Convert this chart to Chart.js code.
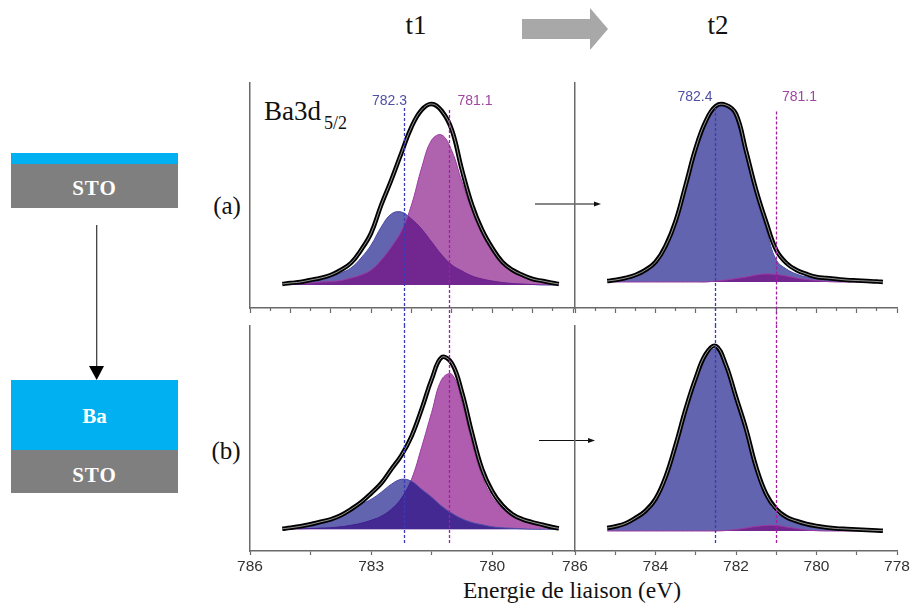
<!DOCTYPE html>
<html><head><meta charset="utf-8">
<script src="https://cdn.jsdelivr.net/npm/chart.js@4.4.1/dist/chart.umd.min.js"></script>
<style>
html,body{margin:0;padding:0;background:#fff;}
body{width:912px;height:607px;position:relative;overflow:hidden;font-family:"Liberation Serif",serif;}
canvas{position:absolute;}
.box{position:absolute;}
.lbl{position:absolute;white-space:nowrap;color:#111;}
.sto{position:absolute;left:11px;width:167px;color:#fff;font:bold 21px "Liberation Serif",serif;letter-spacing:1px;text-align:center;line-height:21px;}
</style></head><body>

<!-- left diagram -->
<div class="box" style="left:11px;top:153px;width:167px;height:11px;background:#00b0f0"></div>
<div class="box" style="left:11px;top:164px;width:167px;height:44px;background:#7f7f7f"></div>
<div class="sto" style="top:178px">STO</div>
<div class="box" style="left:11px;top:380px;width:167px;height:70px;background:#00b0f0"></div>
<div class="sto" style="top:406px;letter-spacing:0">Ba</div>
<div class="box" style="left:11px;top:450px;width:167px;height:43px;background:#7f7f7f"></div>
<div class="sto" style="top:465px">STO</div>

<svg width="912" height="607" style="position:absolute;left:0;top:0">
  <line x1="96.7" y1="225" x2="96.7" y2="368" stroke="#333" stroke-width="1.2"/>
  <polygon points="89,366 104,366 96.7,380" fill="#000"/>
  <polygon points="522,19 590,19 590,8 608,29 590,50 590,39 522,39" fill="#a8a8a8"/>
  <line x1="535" y1="204" x2="596" y2="204" stroke="#111" stroke-width="1"/>
  <polygon points="594,201.5 601,204 594,206.5" fill="#111"/>
  <line x1="539" y1="440.5" x2="590" y2="440.5" stroke="#111" stroke-width="1"/>
  <polygon points="588,438 595,440.5 588,443" fill="#111"/>
</svg>

<div class="lbl" style="left:366px;top:12.4px;width:100px;text-align:center;font-size:27px;line-height:27px">t1</div>
<div class="lbl" style="left:668px;top:12.4px;width:100px;text-align:center;font-size:27px;line-height:27px">t2</div>
<div class="lbl" style="left:197px;top:192.6px;width:60px;text-align:center;font-size:25px;line-height:25px">(a)</div>
<div class="lbl" style="left:196px;top:437.9px;width:60px;text-align:center;font-size:25px;line-height:25px">(b)</div>
<div class="lbl" style="left:264px;top:97.9px;font-size:27px;line-height:27px">Ba3d</div>
<div class="lbl" style="left:324px;top:114.4px;font-size:18px;line-height:18px">5/2</div>
<div class="lbl" style="left:422px;top:579.3px;width:300px;text-align:center;font-size:23.5px;line-height:23.5px">Energie de liaison (eV)</div>

<canvas id="cA1" width="353" height="243" style="left:235px;top:82px"></canvas>
<canvas id="cA2" width="352" height="243" style="left:560px;top:82px"></canvas>
<canvas id="cB1" width="353" height="256" style="left:235px;top:325px"></canvas>
<canvas id="cB2" width="352" height="256" style="left:560px;top:325px"></canvas>

<script>
// ---- binding energy grid (eV) shared by every spectrum ----
const energy = [785.2,785.0,784.75,784.5,784.25,784.0,783.75,783.5,783.25,783.0,782.75,782.5,782.25,782.0,781.75,781.5,781.25,781.0,780.75,780.5,780.25,780.0,779.75,779.5,779.25,779.0,778.75,778.5,778.35];

// ---- (a) t1 ----
const t1aMeasured = [1,2,3,5,7,10,15,22,35,52,80,105,132,158,175,181,174,155,115,80,55,37,23,15,10,6,4,2,1];
const t1aHighBE   = [0.5,1,2,3,5,8,12,17,27,40,58,71,73,66,56,43,30,20,14,9,6,4,2.5,1.5,1,0.5,0,0,0];
const t1aLowBE    = [0.5,1,1.5,2,3,3.5,4.5,7,10,15,25,38,54,80,117,145,150,134,103,74,50,33,20,13,8,5,3,2,1];
// ---- (a) t2 ----
const t2aMeasured = [1,2,4,7,12,20,36,61,97,134,161,176,177,168,131,92,60,32,19,12,8,5,4,3,2,1.5,1,0.5,0];
const t2aHighBE   = [1,2,3.5,6.5,11,19,35,60,96,133,160,174,175,165,127,85,52,22,13,8,5,3.5,2.5,2,1.5,1,0.5,0.5,0];
const t2aLowBE    = [0,0,0,0,0,0,0,0,0,0,0,1,2,3.5,5,7,8,7.5,6,4,2.5,1.5,0.5,0,0,0,0,0,0];
// ---- (b) t1 ----
const t1bMeasured = [0.5,1.5,3,5,7.5,10,14,20,27,36,46,60,74,93,120,150,172,166,137,96,60,38,24,15,10,7,4.5,2,1];
const t1bHighBE   = [0.5,1,1.7,3,5.5,8.5,13,19,25,30,37,45,50,48,40,32,23,16,10.5,6.8,4.5,2.5,1.5,1,0.5,0,0,0,0];
const t1bLowBE    = [0,0.3,0.5,0.8,1.2,1.6,2.5,4,6,9,13,20,31,50,82,117,150,155,127,86,53,32,21,13,8.5,5,3,1.2,0.5];
// ---- (b) t2 ----
const t2bMeasured = [3,4.5,7.5,13,20,32,54,86,122,153,177,185,166,134,102,64,37,22,14,10,7,5,3.5,2.5,2,1.5,1,0.5,0.3];
const t2bHighBE   = [2.5,4,7,12.5,19,31,52,84,120,150,174,182,163,131,99,60,33,18,12,8,5,3.5,2.5,2,1.5,1,0.5,0.3,0];
const t2bLowBE    = [0,0,0,0,0,0,0,0,0,0,0,0,0.5,1.5,3,4.5,5.5,5.5,4,2.5,1,0.3,0,0,0,0,0,0,0];

// ---- component positions (eV) and their labels ----
const peaksT1 = [782.19, 781.08];
const peakLabelsT1 = ['782.3', '781.1'];
const peaksT2 = [782.52, 781.01];
const peakLabelsT2 = ['782.4', '781.1'];

// ---- axis ticks ----
const topMajor = [786,785,784,783,782,781,780,779,778];
const topMinor = [785.5,784.5,783.5,782.5,781.5,780.5,779.5,778.5];
const blMajor = [786,783,780];
const blMinor = [784.5,781.5,778.5];
const brMajor = [786,784,782,780,778];
const brMinor = [785,783,781,779];

// ------------------------------------------------
const BLUE = 'rgb(98,100,176)', BLUE_T = 'rgba(9,12,131,0.64)';
const MAG = 'rgb(176,93,176)', MAG_T = 'rgba(125,0,125,0.61)';
const AX = '#6a6a6a';

function xy(vals){ return energy.map((e,i)=>({x:e, y:vals[i]})); }

const refLines = {
  id:'refLines',
  afterDatasetsDraw(chart, args, opts){
    const {ctx, chartArea} = chart; const xs = chart.scales.x;
    ctx.save();
    (opts.lines||[]).forEach(l=>{
      const px = Math.round(xs.getPixelForValue(l.value)) + 0.5;
      ctx.strokeStyle = l.color; ctx.lineWidth = 1.3; ctx.setLineDash([3,2]);
      ctx.beginPath(); ctx.moveTo(px, chartArea.top + l.top); ctx.lineTo(px, chartArea.bottom + l.bottom); ctx.stroke();
      if (l.label){
        ctx.setLineDash([]); ctx.fillStyle = l.labelColor;
        ctx.font = '14px "Liberation Sans", sans-serif';
        ctx.textAlign = l.align; ctx.textBaseline = 'middle';
        ctx.fillText(l.label, px + l.dx, chartArea.top + l.ly);
      }
    });
    ctx.restore();
  }
};

function makePanel(id, p){
  const mag = {data:xy(p.low), fill:'origin', backgroundColor: p.blueOnTop ? MAG : MAG_T, borderColor:'#9c3aa0', borderWidth:1};
  const blue = {data:xy(p.high), fill:'origin', backgroundColor: p.blueOnTop ? BLUE_T : BLUE, borderColor:'#4a4ca8', borderWidth:1};
  const comps = p.blueOnTop ? [blue, mag] : [mag, blue];
  const datasets = [
    {data:xy(p.meas), borderColor:'rgba(255,255,255,0.75)', borderWidth:0.8, fill:false},
    {data:xy(p.meas), borderColor:'#000000', borderWidth:4.5, fill:false},
    ...comps
  ].map(d=>Object.assign({xAxisID:'x', yAxisID:'y', pointRadius:0, tension:0.4}, d));

  new Chart(document.getElementById(id), {
    type:'line',
    data:{datasets},
    plugins:[refLines],
    options:{
      responsive:false, animation:false, events:[], devicePixelRatio:1,
      layout:{padding:{left:15, right:15, top:0, bottom:0}},
      plugins:{legend:{display:false}, tooltip:{enabled:false}, refLines:{lines:p.lines}},
      scales:{
        x:{type:'linear', position:'bottom', reverse:true, min:778, max:786, weight:1,
           afterBuildTicks:s=>{ s.ticks = p.major.map(v=>({value:v})); },
           afterFit:s=>{ s.height = p.axisH; s.paddingLeft = 0; s.paddingRight = 0; },
           border:{display:true, color:AX, width:1.5},
           grid:{display:true, drawOnChartArea:false, drawTicks:true, tickLength:p.majorLen, color:AX, tickWidth:1.2},
           ticks:{display:p.showLabels, autoSkip:false, maxRotation:0, padding:2, color:'#333',
                  font:{family:'"Liberation Sans", sans-serif', size:15.5},
                  callback:(v)=> p.labelled.includes(v) ? String(v) : ''}},
        xm:{type:'linear', position:'bottom', reverse:true, min:778, max:786, weight:0,
           afterBuildTicks:s=>{ s.ticks = p.minor.map(v=>({value:v})); },
           afterFit:s=>{ s.height = 0; s.paddingLeft = 0; s.paddingRight = 0; },
           border:{display:false},
           grid:{display:true, drawOnChartArea:false, drawTicks:true, tickLength:3, color:AX, tickWidth:1.2},
           ticks:{display:false}},
        y:{type:'linear', position:'left', min:p.ymin, max:p.ymax,
           afterFit:s=>{ s.width = 0; },
           border:{display:p.yBorder, color:AX, width:1.5},
           grid:{display:false}, ticks:{display:false}}
      }
    }
  });
}

const blueLine = '#3a3ab8', magLine = '#a01fa0';
const blueLbl = '#4f4fa6', magLbl = '#a145a1';

makePanel('cA1', {meas:t1aMeasured, high:t1aHighBE, low:t1aLowBE, blueOnTop:false,
  ymin:-23, ymax:203, axisH:17, majorLen:5, showLabels:false, major:topMajor, minor:topMinor, labelled:[], yBorder:true,
  lines:[{value:peaksT1[0], color:blueLine, top:26, bottom:17, label:peakLabelsT1[0], labelColor:blueLbl, align:'right', dx:2.5, ly:19},
         {value:peaksT1[1], color:magLine, top:28, bottom:17, label:peakLabelsT1[1], labelColor:magLbl, align:'left', dx:8, ly:19}]});
makePanel('cA2', {meas:t2aMeasured, high:t2aHighBE, low:t2aLowBE, blueOnTop:false,
  ymin:-26, ymax:200, axisH:17, majorLen:5, showLabels:false, major:topMajor, minor:topMinor, labelled:[], yBorder:true,
  lines:[{value:peaksT2[0], color:blueLine, top:26, bottom:17, label:peakLabelsT2[0], labelColor:blueLbl, align:'right', dx:-3, ly:15},
         {value:peaksT2[1], color:magLine, top:29.5, bottom:17, label:peakLabelsT2[1], labelColor:magLbl, align:'left', dx:5.5, ly:15.5}]});
makePanel('cB1', {meas:t1bMeasured, high:t1bHighBE, low:t1bLowBE, blueOnTop:true,
  ymin:-21.7, ymax:204.3, axisH:30, majorLen:4, showLabels:true, major:blMajor.concat(blMinor), minor:[], labelled:blMajor, yBorder:true,
  lines:[{value:peaksT1[0], color:blueLine, top:0, bottom:-6}, {value:peaksT1[1], color:magLine, top:0, bottom:-6}]});
makePanel('cB2', {meas:t2bMeasured, high:t2bHighBE, low:t2bLowBE, blueOnTop:false,
  ymin:-20, ymax:206, axisH:30, majorLen:4, showLabels:true, major:brMajor.concat(brMinor), minor:[], labelled:brMajor, yBorder:true,
  lines:[{value:peaksT2[0], color:blueLine, top:0, bottom:-6}, {value:peaksT2[1], color:magLine, top:0, bottom:-6}]});
</script>
</body></html>
